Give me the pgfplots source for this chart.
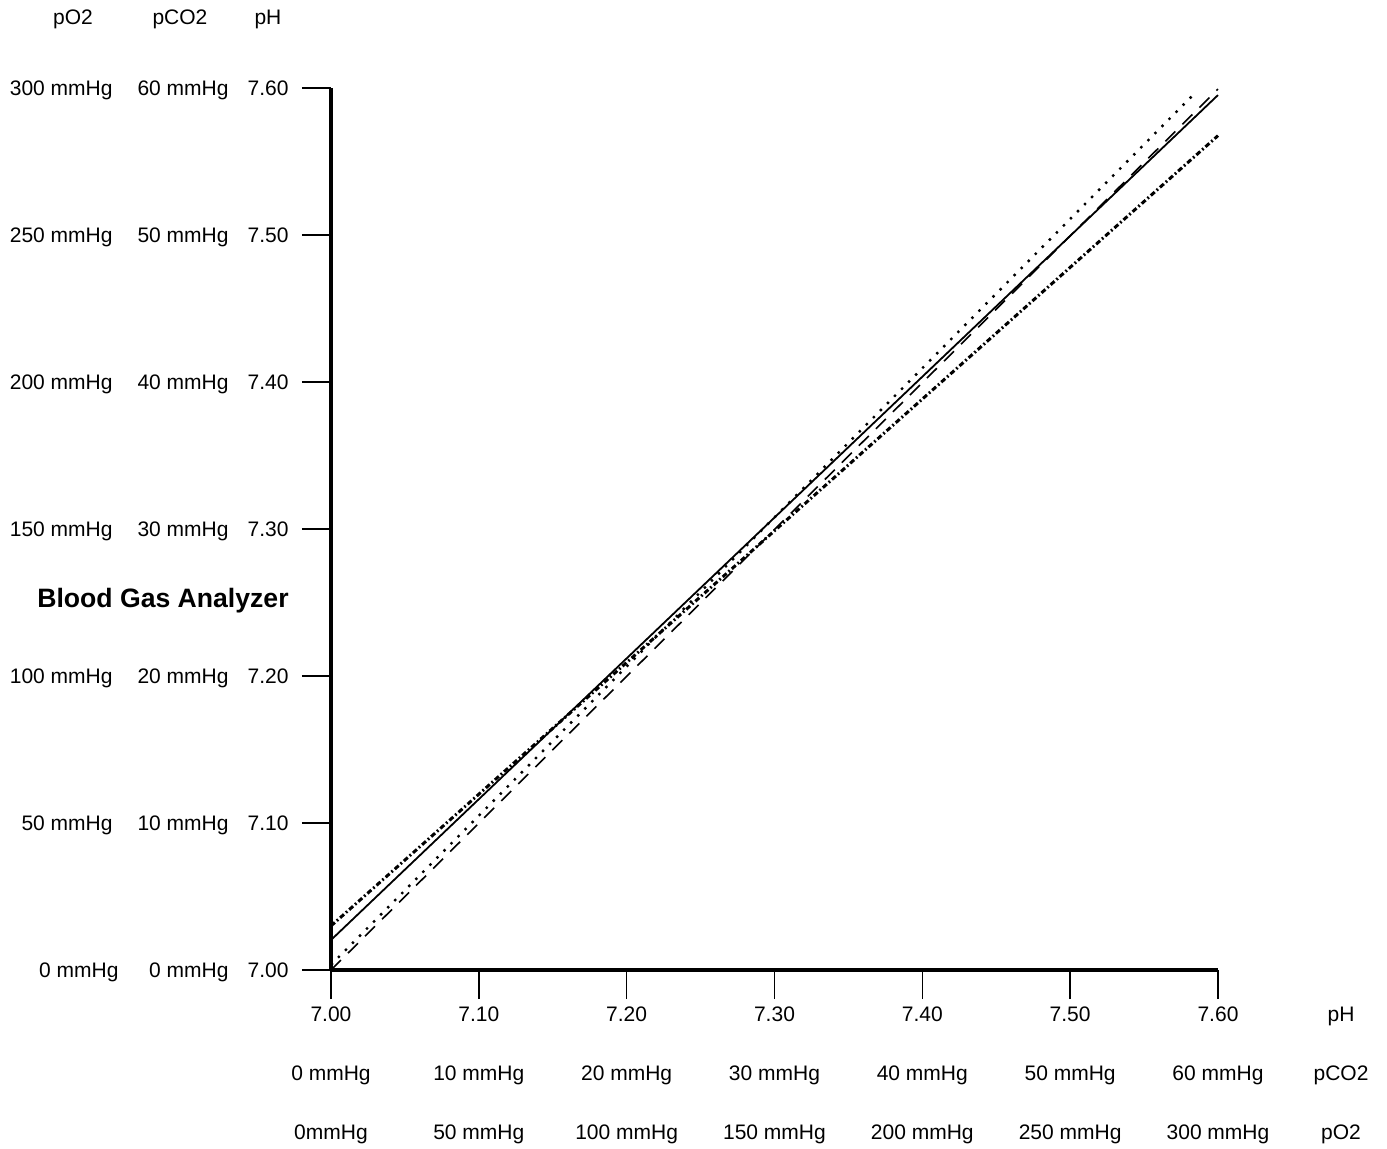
\documentclass[border=0pt]{standalone}
\usepackage{fontspec}
\setmainfont{Liberation Sans}
\usepackage{pgfplots}
\pgfplotsset{compat=1.18}
\begin{document}
\fontsize{10.5}{12.6}\selectfont
\begin{tikzpicture}[lab/.style={anchor=base,inner sep=0pt,font=\fontsize{10.5}{12.6}\selectfont},
  labe/.style={anchor=base east,inner sep=0pt,font=\fontsize{10.5}{12.6}\selectfont}]
\useasboundingbox (-165.5pt,-89pt) rectangle (528pt,485pt);
\begin{axis}[
  at={(0,0)}, anchor=south west,
  scale only axis, width=443.5pt, height=441pt,
  xmin=7, xmax=7.6, ymin=7, ymax=7.6,
  axis x line*=bottom, axis y line*=left,
  axis line style={line width=1.6pt, black},
  xtick={7,7.1,7.2,7.3,7.4,7.5,7.6},
  ytick={7,7.1,7.2,7.3,7.4,7.5,7.6},
  xticklabels={}, yticklabels={},
  tick align=outside, major tick length=14.5pt,
  tick style={line width=0.7pt, black},
  clip=false,
]
\addplot[black, line width=0.9pt] coordinates {(7.00,7.0204) (7.60,7.5952)};
\addplot[black, line width=0.8pt, dash pattern=on 7pt off 5pt] coordinates {(7.00,7.00) (7.60,7.5993)};
\addplot[black, line width=1.2pt, dash pattern=on 1.2pt off 3.8pt] coordinates {(7.00,7.0035) (7.5825,7.5946)};
\addplot[black, line width=1.5pt, dash pattern=on 2.6pt off 1.3pt on 0.9pt off 1.3pt] coordinates {(7.00,7.030) (7.60,7.5676)};
% y-axis label columns
\node[labe,xshift=-21pt,yshift=-3.76pt] at (axis cs:7,7.0) {7.00};
\node[labe,xshift=-21pt,yshift=-3.76pt] at (axis cs:7,7.1) {7.10};
\node[labe,xshift=-21pt,yshift=-3.76pt] at (axis cs:7,7.2) {7.20};
\node[labe,xshift=-21pt,yshift=-3.76pt] at (axis cs:7,7.3) {7.30};
\node[labe,xshift=-21pt,yshift=-3.76pt] at (axis cs:7,7.4) {7.40};
\node[labe,xshift=-21pt,yshift=-3.76pt] at (axis cs:7,7.5) {7.50};
\node[labe,xshift=-21pt,yshift=-3.76pt] at (axis cs:7,7.6) {7.60};
\node[labe,xshift=-51pt,yshift=-3.76pt] at (axis cs:7,7.0) {0 mmHg};
\node[labe,xshift=-51pt,yshift=-3.76pt] at (axis cs:7,7.1) {10 mmHg};
\node[labe,xshift=-51pt,yshift=-3.76pt] at (axis cs:7,7.2) {20 mmHg};
\node[labe,xshift=-51pt,yshift=-3.76pt] at (axis cs:7,7.3) {30 mmHg};
\node[labe,xshift=-51pt,yshift=-3.76pt] at (axis cs:7,7.4) {40 mmHg};
\node[labe,xshift=-51pt,yshift=-3.76pt] at (axis cs:7,7.5) {50 mmHg};
\node[labe,xshift=-51pt,yshift=-3.76pt] at (axis cs:7,7.6) {60 mmHg};
\node[labe,xshift=-106pt,yshift=-3.76pt] at (axis cs:7,7.0) {0 mmHg};
\node[labe,xshift=-109pt,yshift=-3.76pt] at (axis cs:7,7.1) {50 mmHg};
\node[labe,xshift=-109pt,yshift=-3.76pt] at (axis cs:7,7.2) {100 mmHg};
\node[labe,xshift=-109pt,yshift=-3.76pt] at (axis cs:7,7.3) {150 mmHg};
\node[labe,xshift=-109pt,yshift=-3.76pt] at (axis cs:7,7.4) {200 mmHg};
\node[labe,xshift=-109pt,yshift=-3.76pt] at (axis cs:7,7.5) {250 mmHg};
\node[labe,xshift=-109pt,yshift=-3.76pt] at (axis cs:7,7.6) {300 mmHg};
% headers
\node[lab,xshift=-129pt,yshift=31.74pt] at (axis cs:7,7.6) {pO2};
\node[lab,xshift=-75.5pt,yshift=31.74pt] at (axis cs:7,7.6) {pCO2};
\node[lab,xshift=-31.5pt,yshift=31.74pt] at (axis cs:7,7.6) {pH};
\node[anchor=base,inner sep=0pt,font=\fontsize{13.3}{16}\selectfont\bfseries,xshift=-84pt,yshift=181.24pt] at (axis cs:7,7) {Blood Gas Analyzer};
% x-axis label rows
\node[lab,yshift=-25.76pt] at (axis cs:7.0,7) {7.00};
\node[lab,yshift=-25.76pt] at (axis cs:7.1,7) {7.10};
\node[lab,yshift=-25.76pt] at (axis cs:7.2,7) {7.20};
\node[lab,yshift=-25.76pt] at (axis cs:7.3,7) {7.30};
\node[lab,yshift=-25.76pt] at (axis cs:7.4,7) {7.40};
\node[lab,yshift=-25.76pt] at (axis cs:7.5,7) {7.50};
\node[lab,yshift=-25.76pt] at (axis cs:7.6,7) {7.60};
\node[lab,yshift=-55.26pt] at (axis cs:7.0,7) {0 mmHg};
\node[lab,yshift=-55.26pt] at (axis cs:7.1,7) {10 mmHg};
\node[lab,yshift=-55.26pt] at (axis cs:7.2,7) {20 mmHg};
\node[lab,yshift=-55.26pt] at (axis cs:7.3,7) {30 mmHg};
\node[lab,yshift=-55.26pt] at (axis cs:7.4,7) {40 mmHg};
\node[lab,yshift=-55.26pt] at (axis cs:7.5,7) {50 mmHg};
\node[lab,yshift=-55.26pt] at (axis cs:7.6,7) {60 mmHg};
\node[lab,yshift=-84.76pt] at (axis cs:7.0,7) {0mmHg};
\node[lab,yshift=-84.76pt] at (axis cs:7.1,7) {50 mmHg};
\node[lab,yshift=-84.76pt] at (axis cs:7.2,7) {100 mmHg};
\node[lab,yshift=-84.76pt] at (axis cs:7.3,7) {150 mmHg};
\node[lab,yshift=-84.76pt] at (axis cs:7.4,7) {200 mmHg};
\node[lab,yshift=-84.76pt] at (axis cs:7.5,7) {250 mmHg};
\node[lab,yshift=-84.76pt] at (axis cs:7.6,7) {300 mmHg};
\node[lab,xshift=61.5pt,yshift=-25.76pt] at (axis cs:7.6,7) {pH};
\node[lab,xshift=61.5pt,yshift=-55.26pt] at (axis cs:7.6,7) {pCO2};
\node[lab,xshift=61.5pt,yshift=-84.76pt] at (axis cs:7.6,7) {pO2};
\end{axis}
\end{tikzpicture}
\end{document}
